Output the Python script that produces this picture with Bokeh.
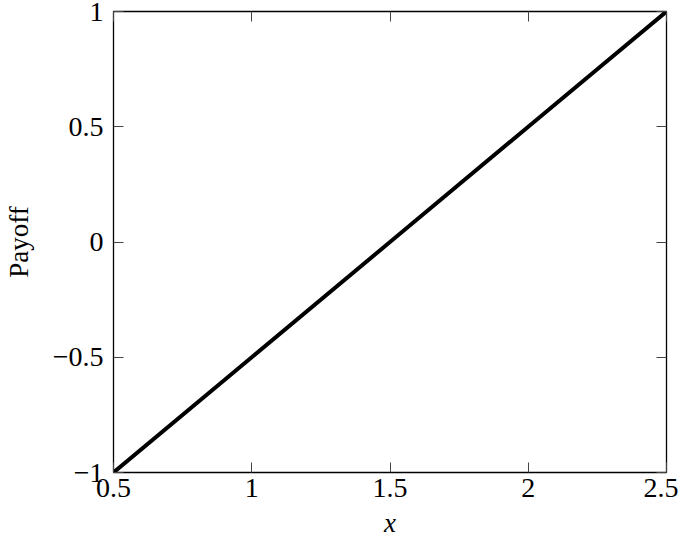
from bokeh.plotting import figure
from bokeh.models import LinearAxis, FixedTicker, Range1d
from bokeh.embed import file_html
from bokeh.resources import INLINE

x_values = [0.5, 1.0, 1.5, 2.0, 2.5]
payoff = [-1.0, -0.5, 0.0, 0.5, 1.0]
x_ticks = [0.5, 1, 1.5, 2, 2.5]
x_tick_labels = ["0.5", "1", "1.5", "2", "2.5"]
y_ticks = [-1, -0.5, 0, 0.5, 1]
y_tick_labels = ["\u22121", "\u22120.5", "0", "0.5", "1"]

FONT = "Liberation Serif"
FS = "28px"

p = figure(frame_width=553, frame_height=461, output_backend="svg", toolbar_location=None,
           x_range=Range1d(0.5, 2.5), y_range=Range1d(-1, 1),
           x_axis_location=None, y_axis_location=None,
           min_border_left=113, min_border_right=12, min_border_top=11, min_border_bottom=60)
p.grid.visible = False
p.outline_line_color = "black"
p.outline_line_width = 1.3
p.background_fill_color = "white"
p.border_fill_color = "white"

def make_axis(ticks, labels, show_labels, label=None):
    ax = LinearAxis(ticker=FixedTicker(ticks=ticks),
                    major_label_overrides={t: l for t, l in zip(ticks, labels)})
    ax.axis_line_color = None
    ax.major_tick_in = 10
    ax.major_tick_out = 0
    ax.major_tick_line_color = "#444444"
    ax.major_tick_line_width = 1
    ax.minor_tick_line_color = None
    ax.major_label_text_font = FONT
    ax.major_label_text_font_size = FS
    ax.major_label_text_color = "black" if show_labels else None
    if label is not None:
        ax.axis_label = label
        ax.axis_label_text_font = FONT
        ax.axis_label_text_font_size = "27px"
        ax.axis_label_text_font_style = "normal"
        ax.axis_label_text_color = "black"
    return ax

xb = make_axis(x_ticks, x_tick_labels, True, "x")
xb.axis_label_text_font_style = "italic"
xb.major_label_standoff = 6
xb.axis_label_standoff = 8
p.add_layout(xb, "below")
yl = make_axis(y_ticks, y_tick_labels, True, "Payoff")
yl.major_label_standoff = 10
yl.axis_label_standoff = 16
p.add_layout(yl, "left")
xa = make_axis(x_ticks, x_tick_labels, False)
xa.major_label_text_font_size = "0px"
xa.major_label_standoff = 0
p.add_layout(xa, "above")
yr = make_axis(y_ticks, y_tick_labels, False)
yr.major_label_text_font_size = "0px"
yr.major_label_standoff = 0
p.add_layout(yr, "right")

p.line(x_values, payoff, line_color="black", line_width=4)

open("out.html", "w").write(file_html(p, INLINE))
